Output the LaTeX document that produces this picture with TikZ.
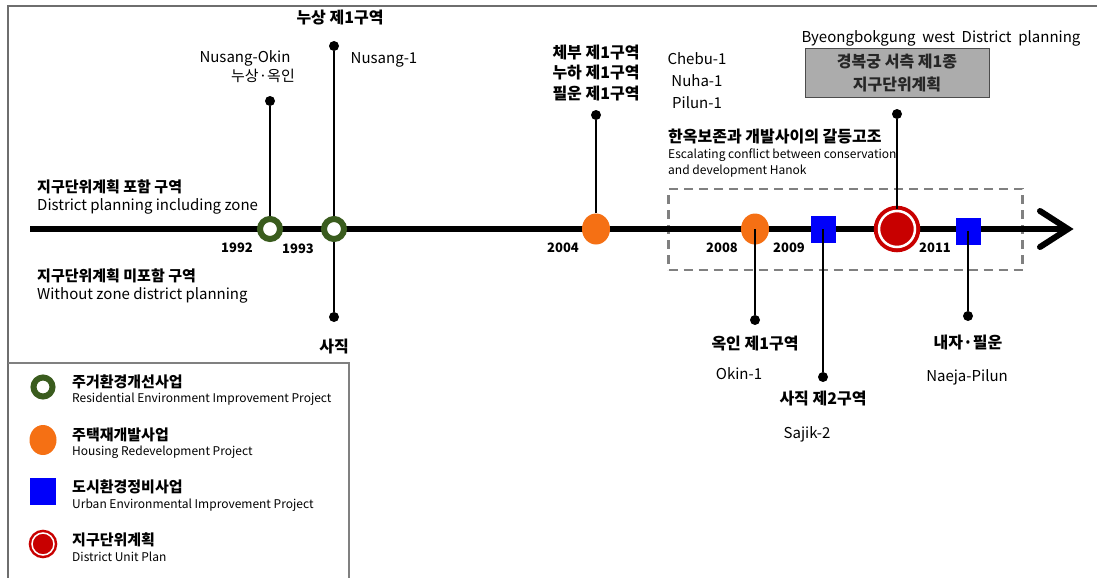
\documentclass[tikz,border=0pt]{standalone}
\usepackage{fontspec}
\setmainfont{Noto Sans CJK KR}
\usetikzlibrary{shapes.geometric}
\definecolor{ringgreen}{RGB}{58,92,30}
\definecolor{hsorange}{RGB}{245,112,20}
\definecolor{ublue}{RGB}{0,0,250}
\definecolor{dred}{RGB}{200,0,0}
\definecolor{boxgray}{RGB}{172,172,172}
\definecolor{framegray}{RGB}{110,110,110}
\definecolor{dashgray}{RGB}{128,128,128}
\newcommand{\wsp}{\hspace{0.45em}}
\begin{document}
\begin{tikzpicture}[x=1pt,y=-1pt,
 ring/.style={circle, draw=ringgreen, line width=6pt, fill=white, minimum size=20pt, inner sep=0pt},
 orangedot/.style={ellipse, fill=hsorange, minimum width=28pt, minimum height=31pt, inner sep=0pt},
 bluesq/.style={rectangle, fill=ublue, minimum width=25pt, minimum height=27pt, inner sep=0pt},
 target/.style={circle, fill=dred, draw=dred, double=white, double distance=2.5pt, line width=4pt, minimum size=36pt, inner sep=0pt},
 enddot/.style={circle, fill=black, minimum size=10pt, inner sep=0pt},
 stem/.style={line width=1.8pt},
 kor/.style={font=\bfseries\fontsize{16}{18}\selectfont, inner sep=0pt},
 korl/.style={font=\bfseries\fontsize{15}{17}\selectfont, inner sep=0pt},
 eng/.style={font=\fontsize{15}{17}\selectfont, inner sep=0pt},
 small/.style={font=\fontsize{12}{14}\selectfont, inner sep=0pt},
 legsmall/.style={font=\fontsize{12}{14}\selectfont, inner sep=0pt},
 yr/.style={font=\bfseries\fontsize{13}{15}\selectfont, inner sep=0pt},
]
\useasboundingbox (0,0) rectangle (1097,578);
% frame
\coordinate (ftl) at (8,6);
\coordinate (ftr) at (1097,6);
\coordinate (fbl) at (8,578);
\draw[framegray, line width=1.5pt] (ftr) -- (ftl) -- (fbl);

% dashed conflict box
\node[draw=dashgray, dashed, dash pattern=on 9pt off 6pt, line width=2.2pt, minimum width=354pt, minimum height=81pt, inner sep=0pt] (conflict) at (845.5,229.5) {};

% timeline
\coordinate (tl) at (30,229);
\coordinate (tr) at (1068,229);
\coordinate (au) at (1040,211);
\coordinate (ad) at (1040,247);
\draw[line width=6.5pt] (tl) -- (tr);
\draw[line width=6pt, line cap=round, line join=miter] (au) -- (tr) -- (ad);

% markers
\node[ring] (r1992) at (270,229) {};
\node[ring] (r1993) at (334,229) {};
\node[orangedot] (o2004) at (596,229) {};
\node[orangedot] (o2008) at (755,229) {};
\node[bluesq] (b2009) at (823,229) {};
\node[target] (t2010) at (897,229) {};
\node[bluesq] (b2011) at (968,231) {};

% end dots
\node[enddot] (d1992) at (270,101) {};
\node[enddot] (d1993u) at (334,46) {};
\node[enddot] (d1993d) at (334,317) {};
\node[enddot] (d2004) at (596,115) {};
\node[enddot] (d2008) at (755,320) {};
\node[enddot] (d2009) at (823,377) {};
\node[enddot] (d2010) at (897,114) {};
\node[enddot] (d2011) at (968,316) {};

% stems
\draw[stem] (r1992) -- (d1992);
\draw[stem] (r1993) -- (d1993u);
\draw[stem] (r1993) -- (d1993d);
\draw[stem] (o2004) -- (d2004);
\draw[stem] (o2008.center) -- (d2008);
\draw[stem] (b2009.center) -- (d2009);
\draw[stem] (t2010) -- (d2010);
\draw[stem] (b2011.center) -- (d2011);

% years
\node[yr] (y1992) at (237,248) {1992};
\node[yr] (y1993) at (298,249) {1993};
\node[yr] (y2004) at (563,248) {2004};
\node[yr] (y2008) at (722,248) {2008};
\node[yr] (y2009) at (789,248) {2009};
\node[yr] (y2011) at (935,248) {2011};

% top labels
\node[kor] (l1993k) at (340,18) {누상 제1구역};
\node[eng] (l1993e) at (384,60) {Nusang-1};
\node[eng] (l1992e) at (245,58) {Nusang-Okin};
\node[eng] (l1992k) at (263,76) {누상·옥인};
\node[kor] (l2004a) at (596,53) {체부 제1구역};
\node[kor] (l2004b) at (596,73) {누하 제1구역};
\node[kor] (l2004c) at (596,94) {필운 제1구역};
\node[eng] (e2004a) at (697,59) {Chebu-1};
\node[eng] (e2004b) at (697,81) {Nuha-1};
\node[eng] (e2004c) at (697,103) {Pilun-1};
\node[eng] (l2010e) at (941,38) {Byeongbokgung\wsp west\wsp District\wsp planning};
\node[draw=black!70, fill=boxgray, line width=1pt, minimum width=184pt, minimum height=48pt, inner sep=0pt] (gbox) at (897,73) {};
\node[kor, text=black!85] (gboxa) at (897,62) {경복궁 서측 제1종};
\node[kor, text=black!85] (gboxb) at (897,84) {지구단위계획};

% conflict text
\node[kor, anchor=west] (ck) at (668,137) {한옥보존과 개발사이의 갈등고조};
\node[small, anchor=west] (ce1) at (668,155) {Escalating conflict between conservation};
\node[small, anchor=west] (ce2) at (668,171) {and development Hanok};

% zone labels
\node[korl, anchor=west] (zk1) at (37,187) {지구단위계획 포함 구역};
\node[eng, anchor=west] (ze1) at (37,206) {District planning including zone};
\node[korl, anchor=west] (zk2) at (37,276) {지구단위계획 미포함 구역};
\node[eng, anchor=west] (ze2) at (37,295) {Without zone district planning};

% bottom labels
\node[kor] (b1993) at (334,347) {사직};
\node[kor] (b2008k) at (755,344) {옥인 제1구역};
\node[eng] (b2008e) at (739,374) {Okin-1};
\node[kor] (b2009k) at (823,399) {사직 제2구역};
\node[eng] (b2009e) at (807,434) {Sajik-2};
\node[kor] (b2011k) at (968,343) {내자·필운};
\node[eng] (b2011e) at (967,377) {Naeja-Pilun};

% legend
\coordinate (lg1) at (8,363);
\coordinate (lg2) at (349,363);
\coordinate (lg3) at (349,578);
\draw[black!50, line width=1.2pt] (lg1) -- (lg2) -- (lg3);
\node[ring, minimum size=19pt] (lgring) at (43,387) {};
\node[korl, anchor=west] (lgk1) at (72,382) {주거환경개선사업};
\node[legsmall, anchor=west] (lge1) at (72,399) {Residential Environment Improvement Project};
\node[orangedot, minimum width=27pt, minimum height=30pt] (lgorange) at (43,440) {};
\node[korl, anchor=west] (lgk2) at (72,435) {주택재개발사업};
\node[legsmall, anchor=west] (lge2) at (72,452) {Housing Redevelopment Project};
\node[bluesq, minimum width=26pt, minimum height=27pt] (lgblue) at (43,491) {};
\node[korl, anchor=west] (lgk3) at (72,487) {도시환경정비사업};
\node[legsmall, anchor=west] (lge3) at (72,505) {Urban Environmental Improvement Project};
\node[target, minimum size=22pt, line width=2.5pt, double distance=1.5pt] (lgtarget) at (43,544) {};
\node[korl, anchor=west] (lgk4) at (72,540) {지구단위계획};
\node[legsmall, anchor=west] (lge4) at (72,557) {District Unit Plan};
\end{tikzpicture}
\end{document}
